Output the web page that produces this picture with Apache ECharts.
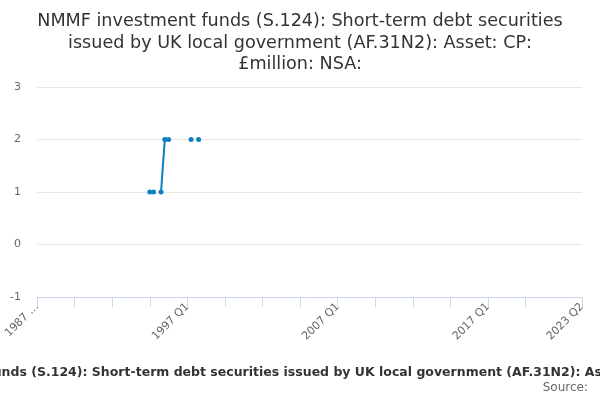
<!DOCTYPE html>
<html>
<head>
<meta charset="utf-8">
<script src="https://cdn.jsdelivr.net/npm/echarts@6/dist/echarts.min.js"></script>
<style>
  html, body { margin: 0; padding: 0; background: #fff; }
  #chart { width: 600px; height: 400px; }
</style>
</head>
<body>
<div id="chart"></div>
<script>
// quarters from 1987 Q1 to 2023 Q2
var quarters = [];
for (var y = 1987; y <= 2023; y++) {
    for (var q = 1; q <= 4; q++) {
        if (y === 2023 && q > 2) break;
        quarters.push(y + ' Q' + q);
    }
}

// values (null = no data)
var valueIndex = [30, 31, 33, 34, 35, 41, 43];
var valueData  = [1, 1, 1, 2, 2, 2, 2];

var series_values = quarters.map(function () { return null; });
for (var i = 0; i < valueIndex.length; i++) {
    series_values[valueIndex[i]] = valueData[i];
}

var lastIdx = quarters.length - 1;
var titleText = 'NMMF investment funds (S.124): Short-term debt securities\nissued by UK local government (AF.31N2): Asset: CP:\n£million: NSA:';
var axisTitle = 'NMMF investment funds (S.124): Short-term debt securities issued by UK local government (AF.31N2): Asset: CP: £million: NSA:';

var chart = echarts.init(document.getElementById('chart'));

chart.setOption({
    animation: false,
    textStyle: { fontFamily: 'DejaVu Sans' },
    title: {
        text: titleText,
        left: 'center',
        top: 6,
        textStyle: {
            fontSize: 17.6,
            fontWeight: 'normal',
            color: '#333333',
            lineHeight: 21.5,
            fontFamily: 'DejaVu Sans'
        }
    },
    graphic: [
        {
            type: 'text',
            x: 308,
            y: 373,
            style: {
                text: axisTitle,
                fontSize: 12.5,
                fontWeight: 'bold',
                fill: '#333333',
                fontFamily: 'DejaVu Sans',
                align: 'center',
                verticalAlign: 'middle'
            }
        },
        {
            type: 'text',
            right: 12,
            top: 382,
            style: {
                text: 'Source:',
                fontSize: 12,
                fill: '#666666',
                fontFamily: 'DejaVu Sans'
            }
        }
    ],
    grid: {
        left: 37,
        right: 18,
        top: 87,
        bottom: 103
    },
    xAxis: {
        type: 'category',
        data: quarters,
        boundaryGap: false,
        axisLine: { onZero: false, lineStyle: { color: '#ccd6eb', width: 1 } },
        axisTick: {
            length: 10,
            lineStyle: { color: '#ccd6eb' },
            interval: function (idx) {
                return (idx % 10 === 0 && idx <= 130) || idx === lastIdx;
            }
        },
        axisLabel: {
            rotate: 45,
            color: '#666666',
            fontSize: 11,
            margin: 8,
            interval: function (idx) {
                return idx % 40 === 0 || idx === lastIdx;
            },
            formatter: function (val, idx) {
                return idx === 0 ? '1987 …' : val;
            }
        },
        splitLine: { show: false }
    },
    yAxis: {
        type: 'value',
        min: -1,
        max: 3,
        interval: 1,
        axisLine: { show: false },
        axisTick: { show: false },
        axisLabel: { color: '#666666', fontSize: 11, margin: 16 },
        splitLine: { lineStyle: { color: '#e6e6e6', width: 1 } }
    },
    series: [{
        type: 'line',
        data: series_values,
        connectNulls: false,
        showSymbol: true,
        showAllSymbol: true,
        symbol: 'circle',
        symbolSize: 5,
        itemStyle: { color: '#0f7dc2' },
        lineStyle: { color: '#0f7dc2', width: 2 }
    }]
});
</script>
</body>
</html>
